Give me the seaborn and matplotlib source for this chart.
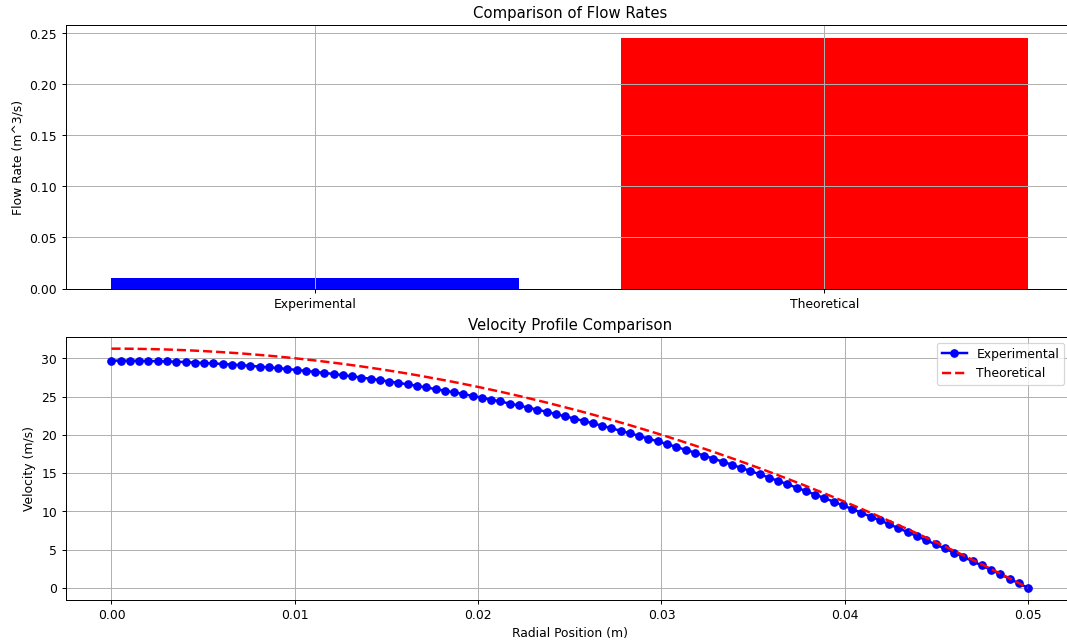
import numpy as np
import matplotlib
matplotlib.use("Agg")
import matplotlib.pyplot as plt
import seaborn as sns

# flow rate comparison (m^3/s)
flow_labels = ["Experimental", "Theoretical"]
flow_values = [0.0102, 0.2454]
flow_colors = ["blue", "red"]

# radial positions (m), 100 samples from centre to wall
radius = np.linspace(0, 0.05, 100)

# velocity (m/s)
v_experimental = [
    29.69, 29.68, 29.68, 29.66, 29.64, 29.61, 29.58, 29.54, 29.50, 29.44,
    29.38, 29.32, 29.25, 29.17, 29.10, 29.00, 28.91, 28.81, 28.71, 28.60,
    28.47, 28.35, 28.22, 28.08, 27.94, 27.80, 27.64, 27.48, 27.31, 27.14,
    26.96, 26.78, 26.59, 26.39, 26.18, 25.97, 25.76, 25.55, 25.32, 25.08,
    24.84, 24.60, 24.35, 24.08, 23.83, 23.55, 23.28, 23.00, 22.71, 22.41,
    22.12, 21.81, 21.50, 21.18, 20.85, 20.52, 20.19, 19.85, 19.49, 19.14,
    18.78, 18.42, 18.04, 17.67, 17.28, 16.89, 16.49, 16.09, 15.68, 15.27,
    14.85, 14.42, 13.98, 13.55, 13.10, 12.65, 12.19, 11.73, 11.26, 10.78,
    10.30, 9.81, 9.32, 8.82, 8.31, 7.80, 7.29, 6.76, 6.23, 5.69,
    5.15, 4.61, 4.05, 3.49, 2.93, 2.35, 1.78, 1.19, 0.60, 0.00,
]
v_theoretical = [
    31.25, 31.25, 31.24, 31.22, 31.20, 31.17, 31.14, 31.09, 31.05, 30.99,
    30.93, 30.86, 30.79, 30.71, 30.63, 30.53, 30.43, 30.33, 30.22, 30.10,
    29.97, 29.84, 29.71, 29.56, 29.41, 29.26, 29.09, 28.93, 28.75, 28.57,
    28.38, 28.19, 27.99, 27.78, 27.56, 27.34, 27.12, 26.89, 26.65, 26.40,
    26.15, 25.89, 25.63, 25.35, 25.08, 24.79, 24.50, 24.21, 23.90, 23.59,
    23.28, 22.96, 22.63, 22.29, 21.95, 21.60, 21.25, 20.89, 20.52, 20.15,
    19.77, 19.39, 18.99, 18.60, 18.19, 17.78, 17.36, 16.94, 16.51, 16.07,
    15.63, 15.18, 14.72, 14.26, 13.79, 13.32, 12.83, 12.35, 11.85, 11.35,
    10.84, 10.33, 9.81, 9.28, 8.75, 8.21, 7.67, 7.12, 6.56, 5.99,
    5.42, 4.85, 4.26, 3.67, 3.08, 2.47, 1.87, 1.25, 0.63, 0.00,
]

dpi = 88.9
fig, axes = plt.subplots(2, 1, figsize=(1067 / dpi, 643.4 / dpi), dpi=dpi)

# Bar chart of flow rates
ax = axes[0]
sns.barplot(x=flow_labels, y=flow_values, hue=flow_labels, palette=flow_colors,
            width=0.8, saturation=1, legend=False, ax=ax)
ax.set_xlim(-0.49, 1.49)
ax.set_ylim(0, max(flow_values) * 1.05)
ax.set_title("Comparison of Flow Rates")
ax.set_ylabel("Flow Rate (m^3/s)")
ax.grid(True)
ax.set_axisbelow("line")

# Velocity profiles
ax = axes[1]
sns.lineplot(x=radius, y=v_experimental, color="blue", marker="o", markersize=6,
             markeredgecolor="blue", markeredgewidth=1, linewidth=2,
             label="Experimental", ax=ax)
sns.lineplot(x=radius, y=v_theoretical, color="red", linestyle="--", linewidth=2,
             label="Theoretical", ax=ax)
ax.set_title("Velocity Profile Comparison")
ax.set_xlabel("Radial Position (m)")
ax.set_ylabel("Velocity (m/s)")
ax.legend(loc="upper right", bbox_to_anchor=(0.9965, 1.0))
ax.grid(True)

# the original is cut off a few pixels past the right spine
plt.subplots_adjust(left=0.0615, right=1.0065, top=0.96, bottom=0.067, hspace=0.183)
plt.savefig("out.png", dpi=dpi)
